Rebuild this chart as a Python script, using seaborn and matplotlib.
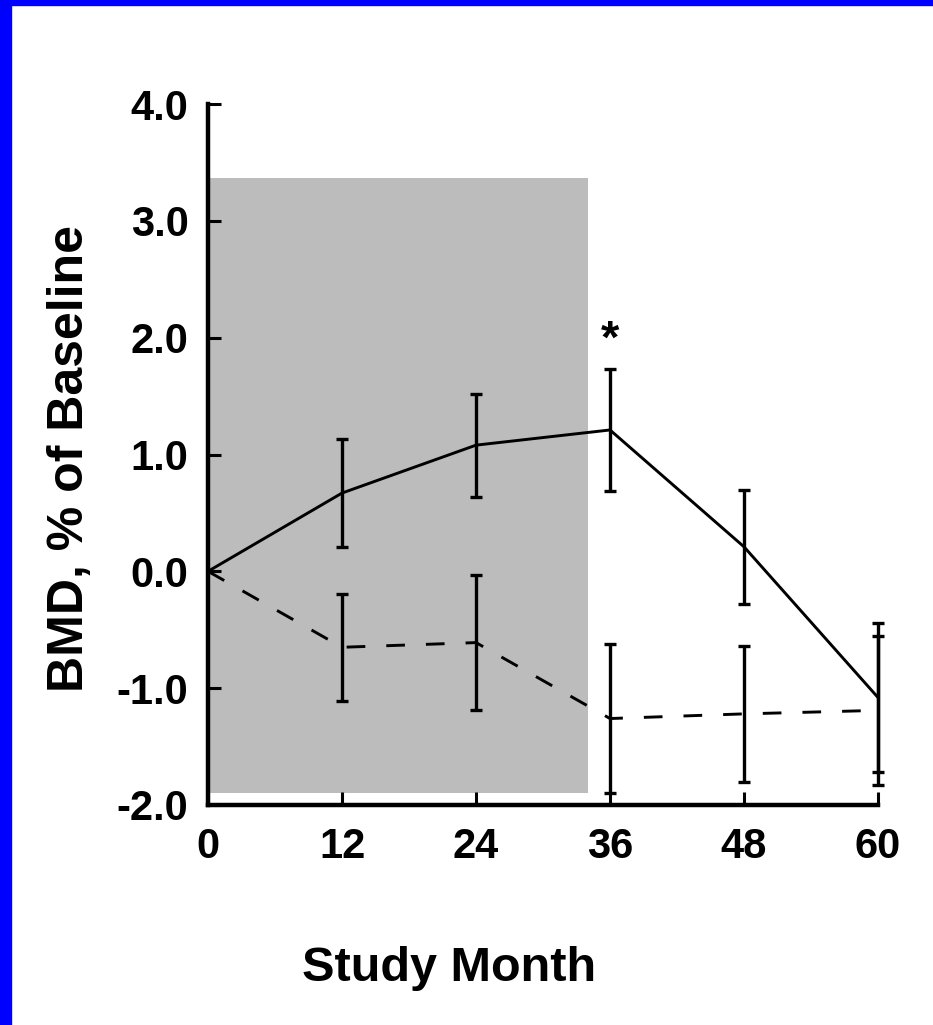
import matplotlib
matplotlib.use("Agg")
import matplotlib.pyplot as plt
from matplotlib.patches import Rectangle
import seaborn as sns
import pandas as pd

# ---- data ----
months = [0, 12, 24, 36, 48, 60]
treat_mean = [0.0, 0.67, 1.08, 1.21, 0.21, -1.08]
treat_err = [0.0, 0.46, 0.44, 0.52, 0.49, 0.64]
ctrl_mean = [0.0, -0.65, -0.61, -1.26, -1.22, -1.19]
ctrl_err = [0.0, 0.46, 0.58, 0.64, 0.58, 0.64]
xticks = [0, 12, 24, 36, 48, 60]
yticks = [-2.0, -1.0, 0.0, 1.0, 2.0, 3.0, 4.0]
ytick_labels = ["-2.0", "-1.0", "0.0", "1.0", "2.0", "3.0", "4.0"]
shade_x = [0, 34]
shade_low, shade_high = -1.9, 3.37
star_month, star_value = 36, 1.97

df = pd.DataFrame({
    "month": months * 2,
    "bmd": treat_mean + ctrl_mean,
    "group": ["treat"] * len(months) + ["ctrl"] * len(months),
})

sns.set_style("ticks")
plt.rcParams["font.family"] = ["Liberation Sans", "DejaVu Sans"]
plt.rcParams["font.weight"] = "bold"
plt.rcParams["text.color"] = "black"
plt.rcParams["axes.labelcolor"] = "black"
plt.rcParams["xtick.color"] = "black"
plt.rcParams["ytick.color"] = "black"

fig = plt.figure(figsize=(9.33, 10.25), dpi=100)
ax = fig.add_axes([208 / 933, 1 - 805 / 1025, 670 / 933, 701 / 1025])

ax.fill_between(shade_x, shade_low, shade_high, color="#bcbcbc", lw=0, zorder=0)

sns.lineplot(data=df, x="month", y="bmd", style="group",
             dashes={"treat": "", "ctrl": (6.4, 7.2)},
             color="black", lw=2.1, legend=False, ax=ax, zorder=3)
for line in ax.lines:
    line.set_clip_on(False)

ax.errorbar(months[1:], treat_mean[1:], yerr=treat_err[1:], fmt="none",
            ecolor="black", elinewidth=2.4, capsize=4.3, capthick=2.4,
            clip_on=False, zorder=4)
ax.errorbar(months[1:], ctrl_mean[1:], yerr=ctrl_err[1:], fmt="none",
            ecolor="black", elinewidth=2.4, capsize=4.3, capthick=2.4,
            clip_on=False, zorder=4)

ax.text(star_month, star_value, "*", ha="center", va="center",
        fontsize=34, fontweight="bold", color="black")

ax.set_xlim(0, 60)
ax.set_ylim(-2, 4)
ax.set_xticks(xticks)
ax.set_xticklabels([str(v) for v in xticks])
ax.set_yticks(yticks)
ax.set_yticklabels(ytick_labels)
ax.tick_params(axis="both", direction="in", length=9.5, width=2.2,
               labelsize=30, colors="black")
ax.tick_params(axis="y", pad=14)
ax.tick_params(axis="x", pad=16)
for lab in ax.get_xticklabels() + ax.get_yticklabels():
    lab.set_fontweight("bold")

for s in ["top", "right"]:
    ax.spines[s].set_visible(False)
for s in ["left", "bottom"]:
    ax.spines[s].set_linewidth(3.2)
    ax.spines[s].set_color("black")

ax.set_xlabel("Study Month", fontsize=35, fontweight="bold", color="black")
ax.set_ylabel("BMD, % of Baseline", fontsize=36, fontweight="bold", color="black")
ax.xaxis.set_label_coords(0.36, -0.201)
ax.yaxis.set_label_coords(-0.172, 0.495)
ax.set_facecolor("white")

fig.patches.append(Rectangle((0, 0), 11 / 933, 1, transform=fig.transFigure,
                             color="#0000ff", zorder=10))
fig.patches.append(Rectangle((0, 1 - 5 / 1025), 1, 5 / 1025,
                             transform=fig.transFigure, color="#0000ff", zorder=10))

fig.savefig("out.png", dpi=100, facecolor="white")
